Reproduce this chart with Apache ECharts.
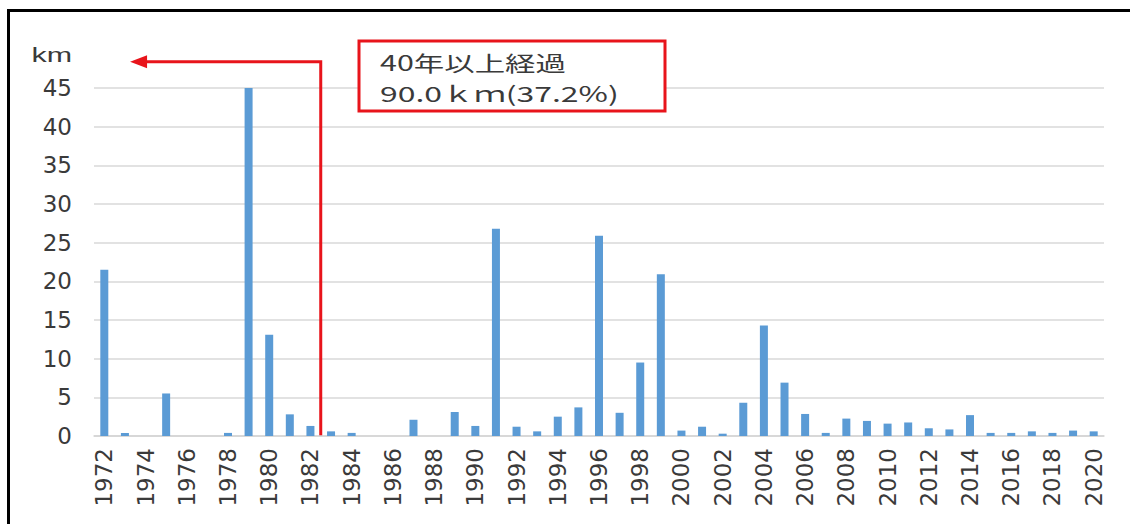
<!DOCTYPE html>
<html>
<head>
<meta charset="utf-8">
<script src="https://cdn.jsdelivr.net/npm/echarts@6/dist/echarts.min.js"></script>
<style>
html,body{margin:0;padding:0;background:#fff;}
#chart{width:1130px;height:524px;}
</style>
</head>
<body>
<div id="chart"></div>
<script>
const years = ['1972','1973','1974','1975','1976','1977','1978','1979','1980','1981','1982','1983','1984','1985','1986','1987','1988','1989','1990','1991','1992','1993','1994','1995','1996','1997','1998','1999','2000','2001','2002','2003','2004','2005','2006','2007','2008','2009','2010','2011','2012','2013','2014','2015','2016','2017','2018','2019','2020'];
const lengthsKm = [21.5,0.4,0,5.5,0,0,0.4,45.0,13.1,2.8,1.3,0.6,0.4,0,0,2.1,0,3.1,1.3,26.8,1.2,0.6,2.5,3.7,25.9,3.0,9.5,20.9,0.7,1.2,0.3,4.3,14.3,6.9,2.85,0.4,2.25,1.95,1.6,1.75,1.0,0.85,2.7,0.4,0.4,0.6,0.4,0.7,0.6];
const yTicks = { min: 0, max: 45, interval: 5 };
const noteLines = ['40年以上経過', '90.0ｋｍ(37.2%)'];
const arrowLineIndex = 10.5;   // between 1982 and 1983
const arrowTipIndex = 1.25;
const arrowTopValue = 48.4;

const chart = echarts.init(document.getElementById('chart'), null, { renderer: 'svg' });
const red = '#e8141b';
const textColor = '#3a3a3a';

function draw() {
  const c0 = chart.convertToPixel({ seriesIndex: 0 }, [years[0], 0]);
  const c1 = chart.convertToPixel({ seriesIndex: 0 }, [years[1], 0]);
  const step = c1[0] - c0[0];
  const xAt = i => c0[0] + i * step;
  const y0 = c0[1];
  const yTop = chart.convertToPixel({ seriesIndex: 0 }, [years[0], arrowTopValue])[1];
  const xl = xAt(arrowLineIndex);
  const xt = xAt(arrowTipIndex);
  return [
    { type: 'rect', silent: true, z: 100, shape: { x: 8.5, y: 10.5, width: 1140, height: 530 },
      style: { fill: 'none', stroke: '#000', lineWidth: 3 } },
    { type: 'text', silent: true, x: 72, y: 55, scaleX: 1.45,
      style: { text: 'km', font: '21px "Liberation Sans", Arial, sans-serif', fill: textColor,
               align: 'right', verticalAlign: 'middle' } },
    { type: 'polyline', silent: true,
      shape: { points: [[xl, y0], [xl, yTop], [xt + 14, yTop]] },
      style: { stroke: red, lineWidth: 3, fill: 'none' } },
    { type: 'polygon', silent: true,
      shape: { points: [[xt, yTop], [xt + 17, yTop - 6.5], [xt + 17, yTop + 6.5]] },
      style: { fill: red } },
    { type: 'rect', silent: true, shape: { x: 359, y: 41, width: 306, height: 70 },
      style: { fill: '#fff', stroke: red, lineWidth: 3 } },
    { type: 'text', silent: true, x: 380, y: 62, scaleX: 1.45,
      style: { text: noteLines[0], font: '21px "Noto Sans CJK JP", sans-serif', fill: textColor,
               align: 'left', verticalAlign: 'middle' } },
    { type: 'text', silent: true, x: 380, y: 93, scaleX: 1.52,
      style: { text: noteLines[1], font: '21px "Noto Sans CJK JP", sans-serif', fill: textColor,
               align: 'left', verticalAlign: 'middle' } }
  ];
}

const option = {
  backgroundColor: '#fff',
  animation: false,
  grid: { left: 94, right: 26, top: 88, bottom: 88 },
  xAxis: {
    type: 'category',
    data: years,
    axisLine: { lineStyle: { color: '#d4d4d4', width: 1.5 } },
    axisTick: { show: false },
    axisLabel: {
      interval: 1, rotate: 90, margin: 12, hideOverlap: false,
      fontFamily: 'DejaVu Sans', fontSize: 23, color: textColor
    }
  },
  yAxis: {
    type: 'value',
    min: yTicks.min, max: yTicks.max, interval: yTicks.interval,
    axisLine: { show: false },
    axisTick: { show: false },
    splitLine: { lineStyle: { color: '#d9d9d9', width: 1.5 } },
    axisLabel: { margin: 22, fontFamily: 'DejaVu Sans', fontSize: 23, color: textColor }
  },
  series: [{
    type: 'bar',
    data: lengthsKm,
    barWidth: 8,
    itemStyle: { color: '#5b9bd5' }
  }]
};
chart.setOption(option);
chart.setOption({ graphic: draw() });
</script>
</body>
</html>
